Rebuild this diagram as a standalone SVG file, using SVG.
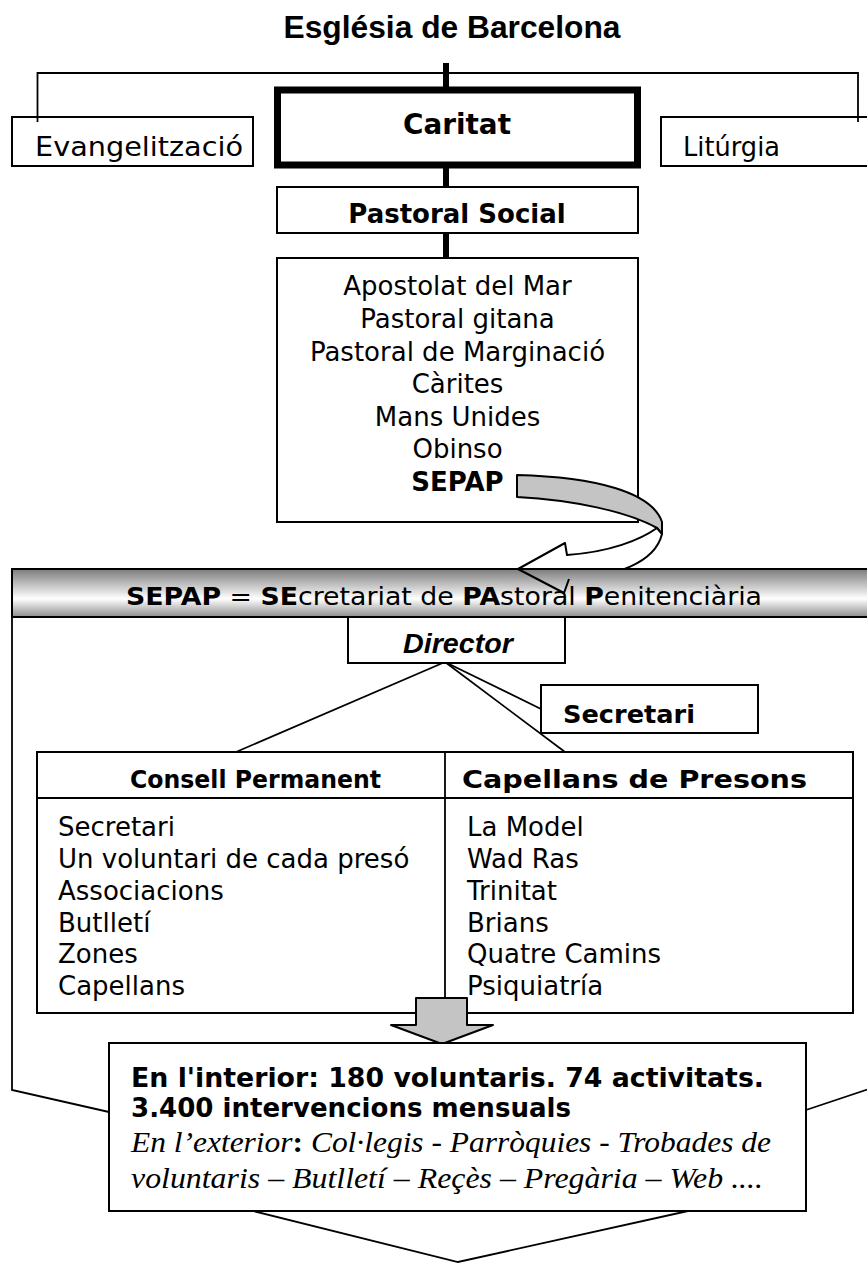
<svg xmlns="http://www.w3.org/2000/svg" width="867" height="1264" viewBox="0 0 867 1264">
<style>
.box{fill:#fff;stroke:#000;stroke-width:2}
.thick{stroke:#000;stroke-width:6;fill:none}
.thin{stroke:#000;stroke-width:1.8;fill:none}
.sans{font-family:"DejaVu Sans",Verdana,sans-serif;fill:#000}
.arial{font-family:"Liberation Sans",Arial,sans-serif;fill:#000}
.serif{font-family:"Liberation Serif","Times New Roman",serif;fill:#000}
.b{font-weight:bold}
.i{font-style:italic}
.n{font-style:normal}
.grey{fill:#c4c4c4;stroke:#000;stroke-width:2;stroke-linejoin:round}
</style>
<defs>
<linearGradient id="hdr" x1="0" y1="0" x2="0" y2="1">
<stop offset="0" stop-color="#7c7c7c"/>
<stop offset="0.62" stop-color="#ffffff"/>
<stop offset="1" stop-color="#8c8c8c"/>
</linearGradient>
</defs>
<rect width="867" height="1264" fill="#fff"/>

<g id="frame">
<polyline class="thin" points="12,617 12,1090 109,1112"/>
<polyline class="thin" points="872,1088 806,1110"/>
<polyline class="thin" points="253,1211 458,1262 688,1211"/>
</g>

<g id="title">
<text x="452" y="38" text-anchor="middle" class="arial b" font-size="32" textLength="337" lengthAdjust="spacingAndGlyphs">Església de Barcelona</text>
</g>

<g id="evangelitzacio">
<rect class="box" x="12" y="117" width="241" height="49"/>
<text x="35" y="156" class="sans" font-size="27" textLength="208" lengthAdjust="spacingAndGlyphs">Evangelització</text>
</g>
<g id="caritat">
<rect x="277.5" y="90" width="360" height="75" fill="#fff" stroke="#000" stroke-width="7"/>
<text x="457" y="134" text-anchor="middle" class="sans b" font-size="28" textLength="108" lengthAdjust="spacingAndGlyphs">Caritat</text>
</g>
<g id="liturgia">
<rect class="box" x="661" y="117" width="220" height="49"/>
<text x="683" y="156" class="sans" font-size="27" textLength="97" lengthAdjust="spacingAndGlyphs">Litúrgia</text>
</g>
<g id="pastoral-social">
<rect class="box" x="277" y="187" width="361" height="46"/>
<text x="457" y="223" text-anchor="middle" class="sans b" font-size="26">Pastoral Social</text>
</g>
<g id="llista">
<rect class="box" x="277" y="258" width="361" height="264"/>
<g class="sans" font-size="26" text-anchor="middle">
<text x="457.5" y="295">Apostolat del Mar</text>
<text x="457.5" y="328">Pastoral gitana</text>
<text x="457.5" y="361">Pastoral de Marginació</text>
<text x="457.5" y="393">Càrites</text>
<text x="457.5" y="426">Mans Unides</text>
<text x="457.5" y="458">Obinso</text>
<text x="457.5" y="491" class="b">SEPAP</text>
</g>
</g>

<g id="connectors">
<line class="thick" x1="446" y1="63" x2="446" y2="90"/>
<polyline class="thin" points="37.5,122 37.5,73 858,73 858,122"/>
<line class="thick" x1="446" y1="168" x2="446" y2="187"/>
<line class="thick" x1="446" y1="233" x2="446" y2="258"/>
<line class="thin" x1="445" y1="662" x2="541" y2="709"/>
<line class="thin" x1="445" y1="662" x2="565" y2="752"/>
<line class="thin" x1="445" y1="662" x2="236" y2="752"/>
</g>

<g id="corba">
<path class="grey" d="M517,475 C595,477 652,492 662,522 L662,534 L657,528 C628,512 575,500 517,497 Z"/>
<path d="M657,528 C640,540 610,552 567,555 L565,543 L518,569 L564,593 L569,579 C615,577 655,563 662,534 Z" fill="#fff" stroke="#000" stroke-width="2" stroke-linejoin="round"/>
</g>

<g id="sepap">
<rect x="12" y="569" width="862" height="48" fill="url(#hdr)" stroke="#000" stroke-width="2"/>
<text x="444" y="605" text-anchor="middle" class="sans" font-size="25" textLength="636" lengthAdjust="spacingAndGlyphs"><tspan class="b">SEPAP</tspan> = <tspan class="b">SE</tspan>cretariat de <tspan class="b">PA</tspan>storal <tspan class="b">P</tspan>enitenciària</text>
<path d="M569,579 L564,593 L518,569" fill="none" stroke="#000" stroke-width="2" stroke-linejoin="round"/>
</g>

<g id="director">
<rect class="box" x="348" y="617" width="217" height="46"/>
<text x="458" y="653" text-anchor="middle" class="arial b i" font-size="27" textLength="110" lengthAdjust="spacingAndGlyphs">Director</text>
</g>
<g id="secretari">
<rect class="box" x="541" y="685" width="217" height="48"/>
<text x="563" y="723" class="sans b" font-size="25" textLength="132" lengthAdjust="spacingAndGlyphs">Secretari</text>
</g>

<g id="consell">
<rect class="box" x="37" y="752" width="816" height="261"/>
<line class="thin" x1="445" y1="752" x2="445" y2="1013"/>
<line class="thin" x1="37" y1="798" x2="853" y2="798"/>
<text x="130" y="788" class="sans b" font-size="25" textLength="251" lengthAdjust="spacingAndGlyphs">Consell Permanent</text>
<text x="462" y="788" class="sans b" font-size="25" textLength="345" lengthAdjust="spacingAndGlyphs">Capellans de Presons</text>
<g class="sans" font-size="26">
<text x="58" y="836">Secretari</text>
<text x="58" y="868">Un voluntari de cada presó</text>
<text x="58" y="900">Associacions</text>
<text x="58" y="932">Butlletí</text>
<text x="58" y="963">Zones</text>
<text x="58" y="995">Capellans</text>
<text x="467" y="836">La Model</text>
<text x="467" y="868">Wad Ras</text>
<text x="467" y="900">Trinitat</text>
<text x="467" y="932">Brians</text>
<text x="467" y="963">Quatre Camins</text>
<text x="467" y="995">Psiquiatría</text>
</g>
</g>

<g id="fletxa">
<polygon class="grey" points="416,998 467,998 467,1025 493,1025 442,1044 391,1025 416,1025"/>
</g>

<g id="resultat">
<rect class="box" x="109" y="1043" width="697" height="168"/>
<text x="131" y="1087" class="sans b" font-size="26" textLength="633" lengthAdjust="spacingAndGlyphs">En l'interior: 180 voluntaris. 74 activitats.</text>
<text x="131" y="1117" class="sans b" font-size="26" textLength="440" lengthAdjust="spacingAndGlyphs">3.400 intervencions mensuals</text>
<text x="131" y="1152" class="serif i" font-size="30" textLength="640" lengthAdjust="spacingAndGlyphs">En l’exterior<tspan class="b n">:</tspan> Col·legis - Parròquies - Trobades de</text>
<text x="131" y="1188" class="serif i" font-size="30" textLength="632" lengthAdjust="spacingAndGlyphs">voluntaris – Butlletí – Reçès – Pregària – Web ....</text>
</g>
</svg>
